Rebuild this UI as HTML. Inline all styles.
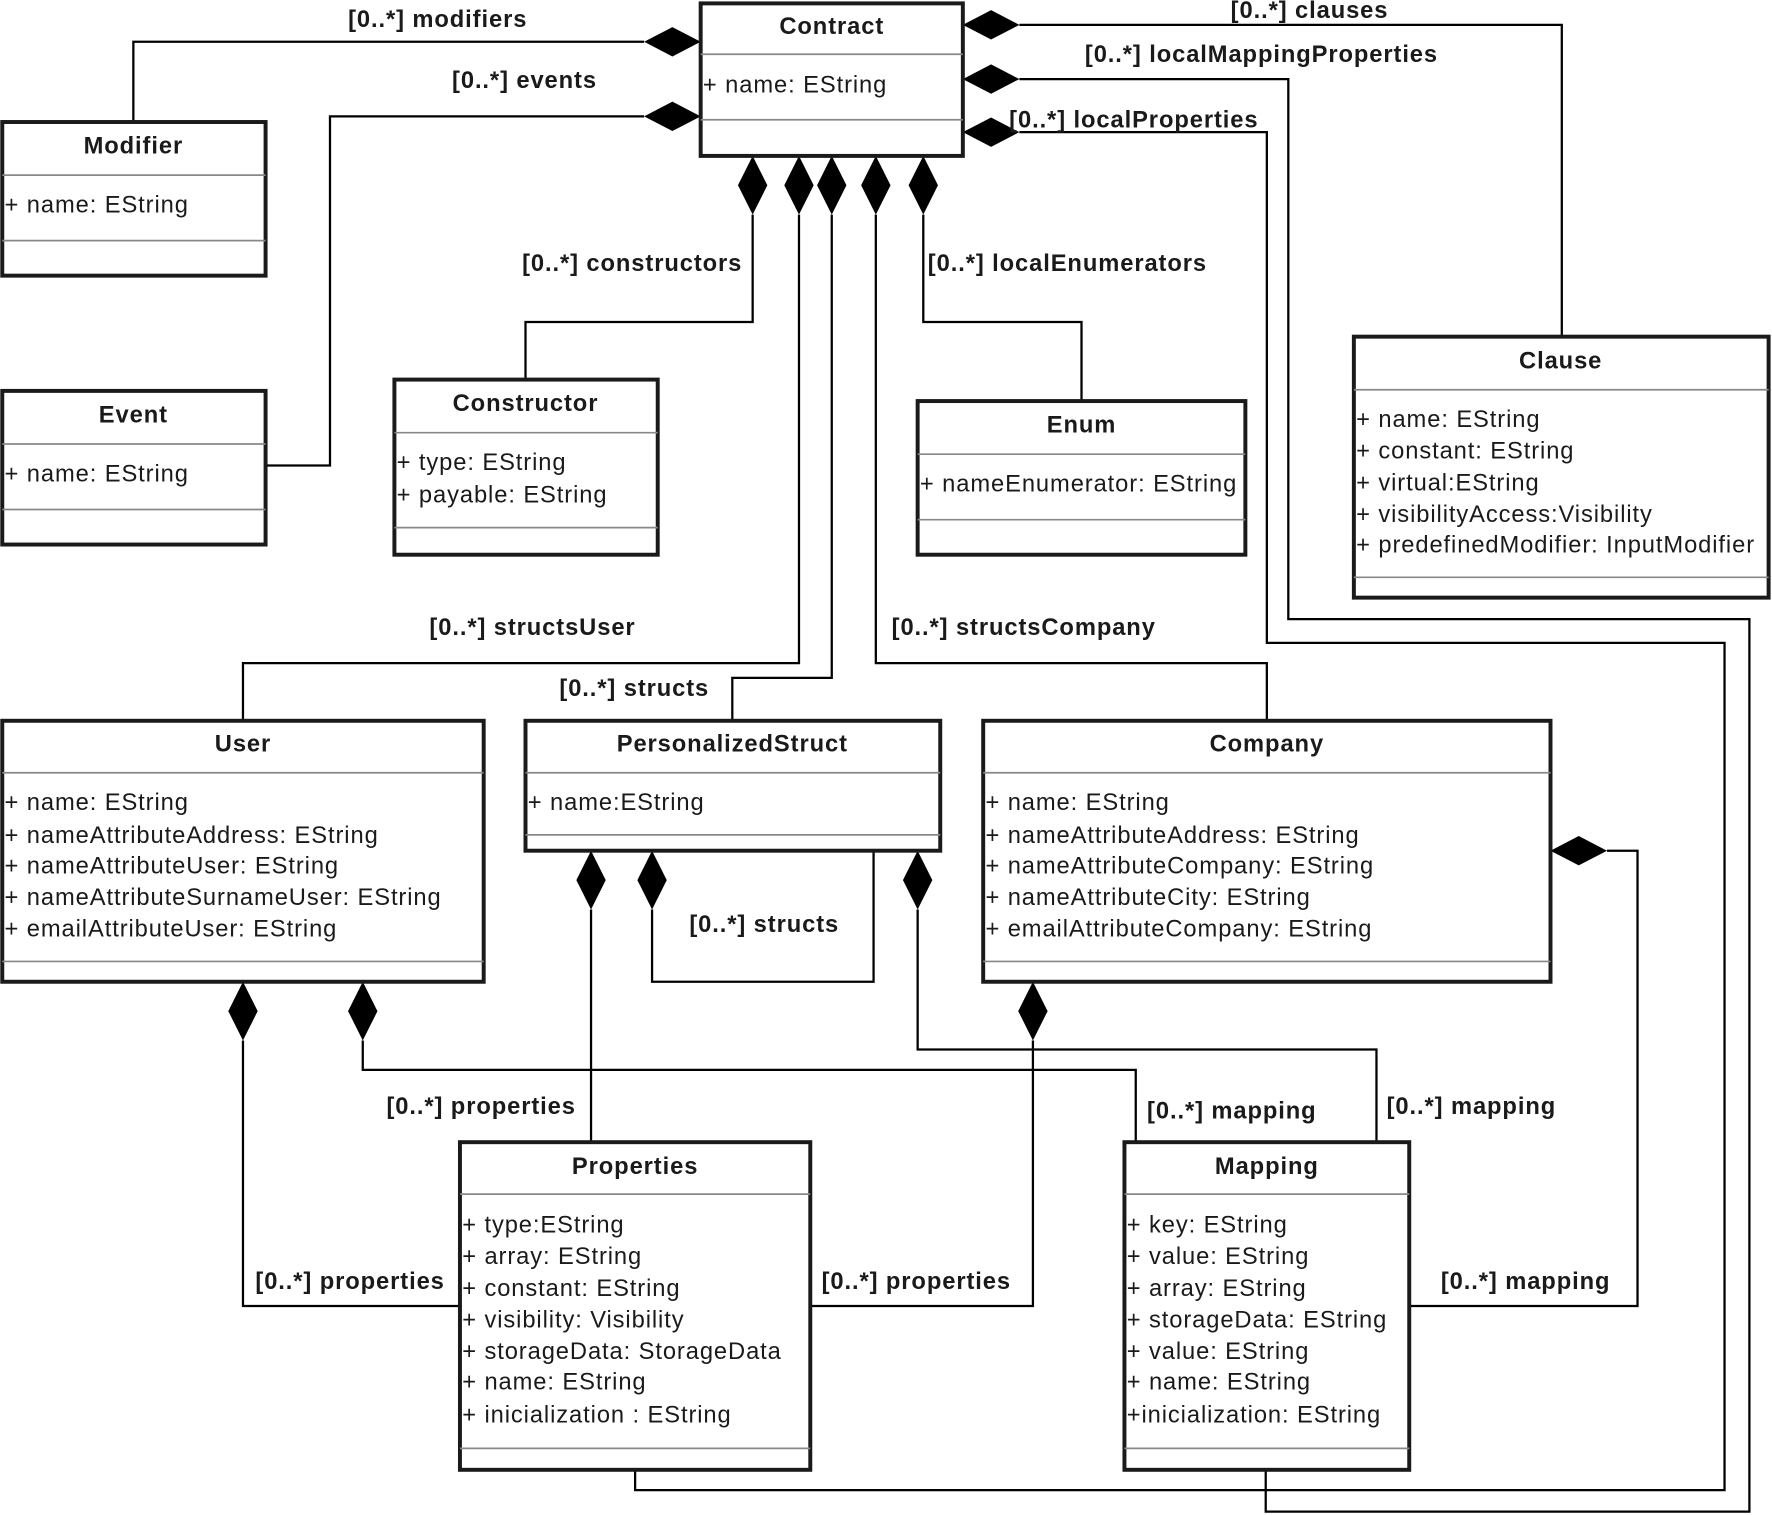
<!DOCTYPE html>
<html><head><meta charset="utf-8"><style>
html,body{margin:0;padding:0;background:#fff;}
svg{display:block;}
text{font-family:"Liberation Sans",Arial,sans-serif;font-size:21px;letter-spacing:0.8px;fill:#1a1a1a;}
.t{font-weight:bold;text-anchor:middle;}
.l{font-weight:bold;}
.b{fill:#fff;stroke:#1a1a1a;stroke-width:3.5;}
.s{stroke:#888;stroke-width:1.5;}
.c{fill:none;stroke:#000;stroke-width:2;}
.d{fill:#000;}
</style></head><body>
<svg width="1772" height="1515" viewBox="0 0 1568 1341" preserveAspectRatio="none" xmlns="http://www.w3.org/2000/svg">
<polyline class="c" points="570,37 118,37 118,108"/>
<polyline class="c" points="570,103 292,103 292,412 235,412"/>
<polyline class="c" points="902,22 1382,22 1382,298"/>
<polyline class="c" points="902,70 1140,70 1140,548 1548,548 1548,1338 1120,1338 1120,1301"/>
<polyline class="c" points="902,117 1121,117 1121,569 1526,569 1526,1319 562,1319 562,1301"/>
<polyline class="c" points="666,190 666,285 465,285 465,336"/>
<polyline class="c" points="707,190 707,587 215,587 215,638"/>
<polyline class="c" points="736,190 736,600 648,600 648,638"/>
<polyline class="c" points="775,190 775,587 1121,587 1121,638"/>
<polyline class="c" points="817,190 817,285 957,285 957,355"/>
<polyline class="c" points="523,805 523,1011"/>
<polyline class="c" points="577,805 577,869 773,869 773,753"/>
<polyline class="c" points="812,805 812,929 1218,929 1218,1011"/>
<polyline class="c" points="215,921 215,1156 407,1156"/>
<polyline class="c" points="321,921 321,947 1005,947 1005,1011"/>
<polyline class="c" points="914,921 914,1156 717,1156"/>
<polyline class="c" points="1422,753 1449,753 1449,1156 1247,1156"/>
<polygon class="d" points="620,37 595,24 570,37 595,50"/>
<polygon class="d" points="620,103 595,90 570,103 595,116"/>
<polygon class="d" points="852,22 877,9 902,22 877,35"/>
<polygon class="d" points="852,70 877,57 902,70 877,83"/>
<polygon class="d" points="852,117 877,104 902,117 877,130"/>
<polygon class="d" points="1372,753 1397,740 1422,753 1397,766"/>
<polygon class="d" points="666,138 679,164 666,190 653,164"/>
<polygon class="d" points="707,138 720,164 707,190 694,164"/>
<polygon class="d" points="736,138 749,164 736,190 723,164"/>
<polygon class="d" points="775,138 788,164 775,190 762,164"/>
<polygon class="d" points="817,138 830,164 817,190 804,164"/>
<polygon class="d" points="523,753 536,779 523,805 510,779"/>
<polygon class="d" points="577,753 590,779 577,805 564,779"/>
<polygon class="d" points="812,753 825,779 812,805 799,779"/>
<polygon class="d" points="215,869 228,895 215,921 202,895"/>
<polygon class="d" points="321,869 334,895 321,921 308,895"/>
<polygon class="d" points="914,869 927,895 914,921 901,895"/>
<text class="l" x="308" y="24">[0..*] modifiers</text>
<text class="l" x="400" y="78">[0..*] events</text>
<text class="l" x="1089" y="16">[0..*] clauses</text>
<text class="l" x="960" y="55">[0..*] localMappingProperties</text>
<text class="l" x="893" y="113">[0..*] localProperties</text>
<text class="l" x="462" y="240">[0..*] constructors</text>
<text class="l" x="821" y="240">[0..*] localEnumerators</text>
<text class="l" x="380" y="562">[0..*] structsUser</text>
<text class="l" x="789" y="562">[0..*] structsCompany</text>
<text class="l" x="495" y="616">[0..*] structs</text>
<text class="l" x="610" y="825">[0..*] structs</text>
<text class="l" x="342" y="986">[0..*] properties</text>
<text class="l" x="1015" y="990">[0..*] mapping</text>
<text class="l" x="1227" y="986">[0..*] mapping</text>
<text class="l" x="226" y="1141">[0..*] properties</text>
<text class="l" x="727" y="1141">[0..*] properties</text>
<text class="l" x="1275" y="1141">[0..*] mapping</text>
<rect class="b" x="620" y="3" width="232" height="135"/>
<line class="s" x1="620" y1="48" x2="852" y2="48"/><line class="s" x1="620" y1="106" x2="852" y2="106"/>
<text class="t" x="736" y="30">Contract</text>
<text x="622" y="82">+ name: EString</text>
<rect class="b" x="2" y="108" width="233" height="136"/>
<line class="s" x1="2" y1="155" x2="235" y2="155"/><line class="s" x1="2" y1="213" x2="235" y2="213"/>
<text class="t" x="118" y="136">Modifier</text>
<text x="4" y="188">+ name: EString</text>
<rect class="b" x="2" y="346" width="233" height="136"/>
<line class="s" x1="2" y1="393" x2="235" y2="393"/><line class="s" x1="2" y1="451" x2="235" y2="451"/>
<text class="t" x="118" y="374">Event</text>
<text x="4" y="426">+ name: EString</text>
<rect class="b" x="349" y="336" width="233" height="155"/>
<line class="s" x1="349" y1="383" x2="582" y2="383"/><line class="s" x1="349" y1="467" x2="582" y2="467"/>
<text class="t" x="465" y="364">Constructor</text>
<text x="351" y="416">+ type: EString</text>
<text x="351" y="445">+ payable: EString</text>
<rect class="b" x="812" y="355" width="290" height="136"/>
<line class="s" x1="812" y1="402" x2="1102" y2="402"/><line class="s" x1="812" y1="460" x2="1102" y2="460"/>
<text class="t" x="957" y="383">Enum</text>
<text x="814" y="435">+ nameEnumerator: EString</text>
<rect class="b" x="1198" y="298" width="367" height="231"/>
<line class="s" x1="1198" y1="345" x2="1565" y2="345"/><line class="s" x1="1198" y1="511" x2="1565" y2="511"/>
<text class="t" x="1381" y="326">Clause</text>
<text x="1200" y="378">+ name: EString</text>
<text x="1200" y="406">+ constant: EString</text>
<text x="1200" y="434">+ virtual:EString</text>
<text x="1200" y="462">+ visibilityAccess:Visibility</text>
<text x="1200" y="489">+ predefinedModifier: InputModifier</text>
<rect class="b" x="2" y="638" width="426" height="231"/>
<line class="s" x1="2" y1="684" x2="428" y2="684"/><line class="s" x1="2" y1="851" x2="428" y2="851"/>
<text class="t" x="215" y="665">User</text>
<text x="4" y="717">+ name: EString</text>
<text x="4" y="746">+ nameAttributeAddress: EString</text>
<text x="4" y="773">+ nameAttributeUser: EString</text>
<text x="4" y="801">+ nameAttributeSurnameUser: EString</text>
<text x="4" y="829">+ emailAttributeUser: EString</text>
<rect class="b" x="465" y="638" width="367" height="115"/>
<line class="s" x1="465" y1="684" x2="832" y2="684"/><line class="s" x1="465" y1="739" x2="832" y2="739"/>
<text class="t" x="648" y="665">PersonalizedStruct</text>
<text x="467" y="717">+ name:EString</text>
<rect class="b" x="870" y="638" width="502" height="231"/>
<line class="s" x1="870" y1="684" x2="1372" y2="684"/><line class="s" x1="870" y1="851" x2="1372" y2="851"/>
<text class="t" x="1121" y="665">Company</text>
<text x="872" y="717">+ name: EString</text>
<text x="872" y="746">+ nameAttributeAddress: EString</text>
<text x="872" y="773">+ nameAttributeCompany: EString</text>
<text x="872" y="801">+ nameAttributeCity: EString</text>
<text x="872" y="829">+ emailAttributeCompany: EString</text>
<rect class="b" x="407" y="1011" width="310" height="290"/>
<line class="s" x1="407" y1="1057" x2="717" y2="1057"/><line class="s" x1="407" y1="1282" x2="717" y2="1282"/>
<text class="t" x="562" y="1039">Properties</text>
<text x="409" y="1091">+ type:EString</text>
<text x="409" y="1119">+ array: EString</text>
<text x="409" y="1147">+ constant: EString</text>
<text x="409" y="1175">+ visibility: Visibility</text>
<text x="409" y="1203">+ storageData: StorageData</text>
<text x="409" y="1230">+ name: EString</text>
<text x="409" y="1259">+ inicialization : EString</text>
<rect class="b" x="995" y="1011" width="252" height="290"/>
<line class="s" x1="995" y1="1057" x2="1247" y2="1057"/><line class="s" x1="995" y1="1282" x2="1247" y2="1282"/>
<text class="t" x="1121" y="1039">Mapping</text>
<text x="997" y="1091">+ key: EString</text>
<text x="997" y="1119">+ value: EString</text>
<text x="997" y="1147">+ array: EString</text>
<text x="997" y="1175">+ storageData: EString</text>
<text x="997" y="1203">+ value: EString</text>
<text x="997" y="1230">+ name: EString</text>
<text x="997" y="1259">+inicialization: EString</text>
</svg>
</body></html>
